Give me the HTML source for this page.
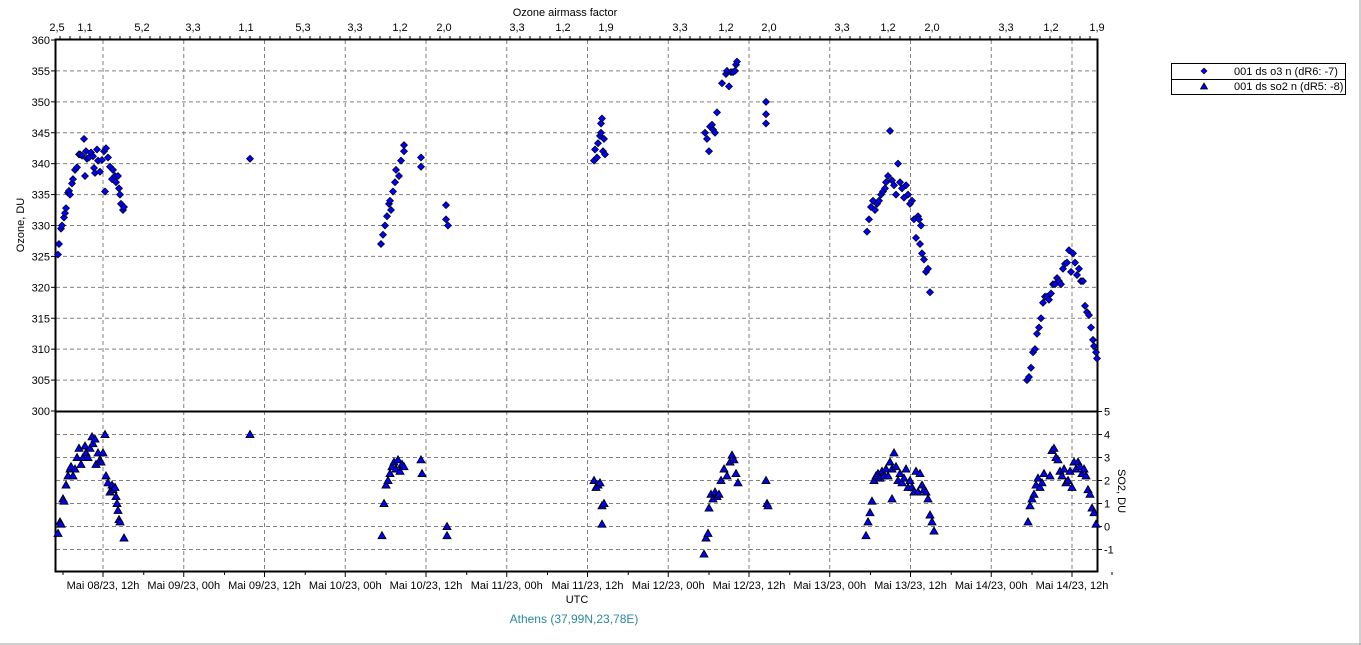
<!DOCTYPE html>
<html><head><meta charset="utf-8"><style>
body{margin:0;background:#fff;}
svg{display:block;font-family:"Liberation Sans",sans-serif;font-size:11px;}
</style></head><body>
<svg id="s" width="1361" height="645" xmlns="http://www.w3.org/2000/svg">
<rect x="0" y="0" width="1361" height="645" fill="#fff"/>
<line x1="1360" y1="0" x2="1360" y2="645" stroke="#a0a0a0"/>
<line x1="0" y1="644" x2="1361" y2="644" stroke="#a0a0a0"/>
<g id="grid" stroke="#808080" stroke-dasharray="4,3" stroke-width="1"></g>
<g id="ticks" stroke="#000"></g>
<rect x="55.5" y="39.5" width="1042" height="532" fill="none" stroke="#000" stroke-width="2"/>
<line x1="55" y1="411.5" x2="1098" y2="411.5" stroke="#000" stroke-width="2"/>
<g id="lab" fill="#000"></g>
<g id="pts"></g>
<text x="565" y="16" text-anchor="middle">Ozone airmass factor</text>
<text transform="translate(24,225) rotate(-90)" text-anchor="middle">Ozone, DU</text>
<text transform="translate(1118,491) rotate(90)" text-anchor="middle">SO2, DU</text>
<text x="577" y="603" text-anchor="middle">UTC</text>
<text x="574" y="623" text-anchor="middle" fill="#2a8a9a" font-size="12">Athens (37,99N,23,78E)</text>
<rect x="1171.5" y="63.5" width="174" height="31" fill="#fff" stroke="#000"/>
<line x1="1171" y1="79.5" x2="1346" y2="79.5" stroke="#000"/>
<polygon points="1204,68 1207,71 1204,74 1201,71" fill="#00f" stroke="#000" stroke-width="0.6"/>
<polygon points="1204,83 1207.5,89 1200.5,89" fill="#00f" stroke="#000" stroke-width="0.8"/>
<text x="1234" y="75" font-size="11">001 ds o3  n (dR6: -7)</text>
<text x="1234" y="90" font-size="11">001 ds so2 n (dR5: -8)</text>
</svg>
<script>
(function(){
const NS="http://www.w3.org/2000/svg";
function el(p,t,a,txt){const e=document.createElementNS(NS,t);for(const k in a)e.setAttribute(k,a[k]);if(txt!==undefined)e.textContent=txt;p.appendChild(e);return e;}
const g=document.getElementById('grid'),tk=document.getElementById('ticks'),lb=document.getElementById('lab'),P=document.getElementById('pts');
const oy=v=>40+(360-v)*371/60;
const sy=v=>411.5+(5-v)*23;
const vx=[];for(let i=0;i<13;i++)vx.push(103+i*80.75);
vx.forEach(x=>el(g,'line',{x1:x,y1:40,x2:x,y2:571}));
for(let v=305;v<360;v+=5)el(g,'line',{x1:56,y1:oy(v),x2:1097,y2:oy(v)});
for(let v=-1;v<5;v++)el(g,'line',{x1:56,y1:sy(v),x2:1097,y2:sy(v)});
for(let v=300;v<=360;v+=5){el(lb,'text',{x:50,y:oy(v)+4,'text-anchor':'end'},String(v));el(tk,'line',{x1:51,y1:oy(v),x2:55,y2:oy(v)});}
for(let v=-1;v<=5;v++){el(lb,'text',{x:1104,y:sy(v)+4},String(v));el(tk,'line',{x1:1098,y1:sy(v),x2:1102,y2:sy(v)});}
const xl=["Mai 08/23, 12h","Mai 09/23, 00h","Mai 09/23, 12h","Mai 10/23, 00h","Mai 10/23, 12h","Mai 11/23, 00h","Mai 11/23, 12h","Mai 12/23, 00h","Mai 12/23, 12h","Mai 13/23, 00h","Mai 13/23, 12h","Mai 14/23, 00h","Mai 14/23, 12h"];
xl.forEach((t,i)=>{el(lb,'text',{x:vx[i],y:589,'text-anchor':'middle'},t);el(tk,'line',{x1:vx[i],y1:572,x2:vx[i],y2:577});el(tk,'line',{x1:vx[i]-40,y1:572,x2:vx[i]-40,y2:575});});
el(tk,'line',{x1:vx[12]+40,y1:572,x2:vx[12]+40,y2:575});
for(let x=60;x<1098;x+=10)el(tk,'line',{x1:x,y1:36,x2:x,y2:39});
const topL=[[57,"2,5"],[85,"1,1"],[142,"5,2"],[193,"3,3"],[246,"1,1"],[303,"5,3"],[355,"3,3"],[400,"1,2"],[444,"2,0"],[517,"3,3"],[563,"1,2"],[606,"1,9"],[680,"3,3"],[726,"1,2"],[769,"2,0"],[842,"3,3"],[888,"1,2"],[932,"2,0"],[1006,"3,3"],[1051,"1,2"],[1097,"1,9"]];
topL.forEach(([x,t])=>el(lb,'text',{x:x,y:31,'text-anchor':'middle'},t));
const O=[[58,325.3],[59,327],[61,329.5],[62,330],[64,331.3],[65,332],[66,332.8],[68,335.3],[69,335.6],[70,335],[72,336.8],[73,337.5],[75,339],[77,339.4],[79,341.5],[80,341.5],[82,341.3],[84,344],[85,338],[86,342],[87,340.8],[89,341],[91,341.8],[93,341.2],[94,339.3],[95,338.5],[97,342.3],[98,340.5],[100,338.7],[102,340.6],[104,342],[105,335.5],[106,342.5],[108,341],[110,339.5],[112,337.5],[113,339],[115,338],[116,337],[118,338],[119,336],[120,335],[121,333.5],[123,332.5],[124,333],
[250,340.8],
[381,327],[383,328.5],[385,330],[387,331.5],[389,333.5],[390,334],[391,332.5],[393,335.5],[395,337],[396,339],[399,338],[401,340.5],[404,343],[404,342],[421,341],[421,339.5],[446,333.3],[446,331],[448,330],
[594,340.5],[595,342.3],[597,341],[598,343.3],[600,344.5],[601,345],[601,346.5],[602,347.3],[603,342],[604,344],[605,341.5],
[705,345],[707,344],[709,342],[710,346],[712,346.3],[713,345.5],[715,345],[717,348.3],[722,353],[726,354.5],[727,355],[729,352.5],[731,354.8],[733,354.8],[735,355],[736,356],[737,356.5],[766,350],[766,348],[766,346.5],
[867,329],[869,331],[871,333],[873,334],[875,332.5],[877,333.5],[879,334],[881,335],[883,335.5],[885,336],[886,337],[888,338],[890,345.3],[892,337.3],[894,336.5],[896,335],[898,340],[900,337],[902,336],[904,334.5],[906,336.5],[908,335],[910,333.5],[912,334],[914,331],[916,328],[918,331.5],[920,327],[922,325.5],[924,324.5],[926,322.5],[928,323],[930,319.2],[921,330],[919,331],
[1027,305],[1029,305.5],[1031,307],[1033,309.5],[1035,310],[1037,312.5],[1039,313.5],[1041,315],[1043,317.5],[1045,318.5],[1047,318.5],[1049,318],[1051,319],[1053,320.5],[1055,320.5],[1057,321.5],[1059,321],[1061,320.5],[1063,323],[1065,323.8],[1067,324],[1069,326],[1071,322.5],[1073,325.5],[1075,324],[1077,322],[1079,323],[1081,321],[1083,321],[1085,317],[1087,316],[1089,315.5],[1091,313.5],[1093,311.5],[1094,310.5],[1096,309.5],[1097,308.5]];
const S=[[58,-0.3],[60,0.2],[61,0.1],[63,1.2],[64,1.1],[66,1.8],[68,2.2],[70,2.5],[71,2.6],[73,2.2],[75,2.5],[77,3],[79,3.4],[81,2.7],[83,3],[85,3.5],[86,3.2],[88,3],[90,3.4],[92,3.9],[93,3.6],[95,3.8],[96,2.7],[98,3.2],[100,2.9],[101,2.8],[103,3.2],[105,4],[106,2.2],[108,1.9],[110,1.5],[112,1.8],[113,1.6],[115,1.7],[116,1.3],[117,1],[118,0.7],[119,0.3],[120,0.2],[124,-0.5],
[250,4],
[382,-0.4],[384,1],[386,1.8],[388,2],[390,2.3],[392,2.6],[394,2.8],[396,2.5],[398,2.9],[400,2.4],[402,2.7],[404,2.6],[421,2.9],[422,2.3],[447,0],[447,-0.4],
[594,2],[596,1.7],[598,1.8],[600,1.9],[602,0.9],[604,1],[602,0.1],
[704,-1.2],[706,-0.5],[708,-0.3],[709,0.8],[711,1.4],[713,1.2],[715,1.5],[717,1.3],[719,1.4],[721,2],[724,2.5],[727,2.2],[730,2.8],[732,3.1],[734,2.9],[736,2.3],[738,1.9],[766,2],[767,1],[768,0.9],
[866,-0.4],[868,0.2],[870,0.6],[872,1.1],[874,2],[876,2.2],[878,2.3],[880,2.1],[882,2.4],[884,2.2],[886,2.5],[888,2.2],[890,2.8],[892,2.5],[894,3.2],[896,2.6],[898,2],[900,2.3],[902,1.9],[904,2.1],[906,2.5],[908,1.7],[910,2],[912,1.7],[914,1.5],[916,2.4],[918,1.5],[920,2.3],[922,1.8],[924,1.6],[926,1.5],[928,1.2],[930,0.5],[932,0.2],[934,-0.2],[892,1.2],
[1028,0.2],[1030,0.9],[1032,1.2],[1034,1.4],[1036,1.8],[1038,2.1],[1040,1.7],[1042,1.9],[1044,2.3],[1050,2.2],[1052,3.3],[1054,3.4],[1056,3],[1058,2.9],[1060,2.4],[1062,2.2],[1064,2.5],[1066,1.9],[1068,2],[1070,2.4],[1072,1.7],[1074,2.8],[1076,2.5],[1078,2.8],[1080,2.6],[1082,2.3],[1084,2.5],[1086,2.2],[1088,1.6],[1090,1.4],[1092,0.8],[1094,0.6],[1096,0.1]];
O.forEach(([x,v])=>{const y=oy(v);el(P,'polygon',{points:`${x},${y-3.5} ${x+3.5},${y} ${x},${y+3.5} ${x-3.5},${y}`,fill:'#0000ff',stroke:'#000','stroke-width':0.7});});
S.forEach(([x,v])=>{const y=sy(v);el(P,'polygon',{points:`${x},${y-4} ${x+4},${y+3} ${x-4},${y+3}`,fill:'#0000ff',stroke:'#000','stroke-width':0.9});});
})();
</script>
</body></html>
